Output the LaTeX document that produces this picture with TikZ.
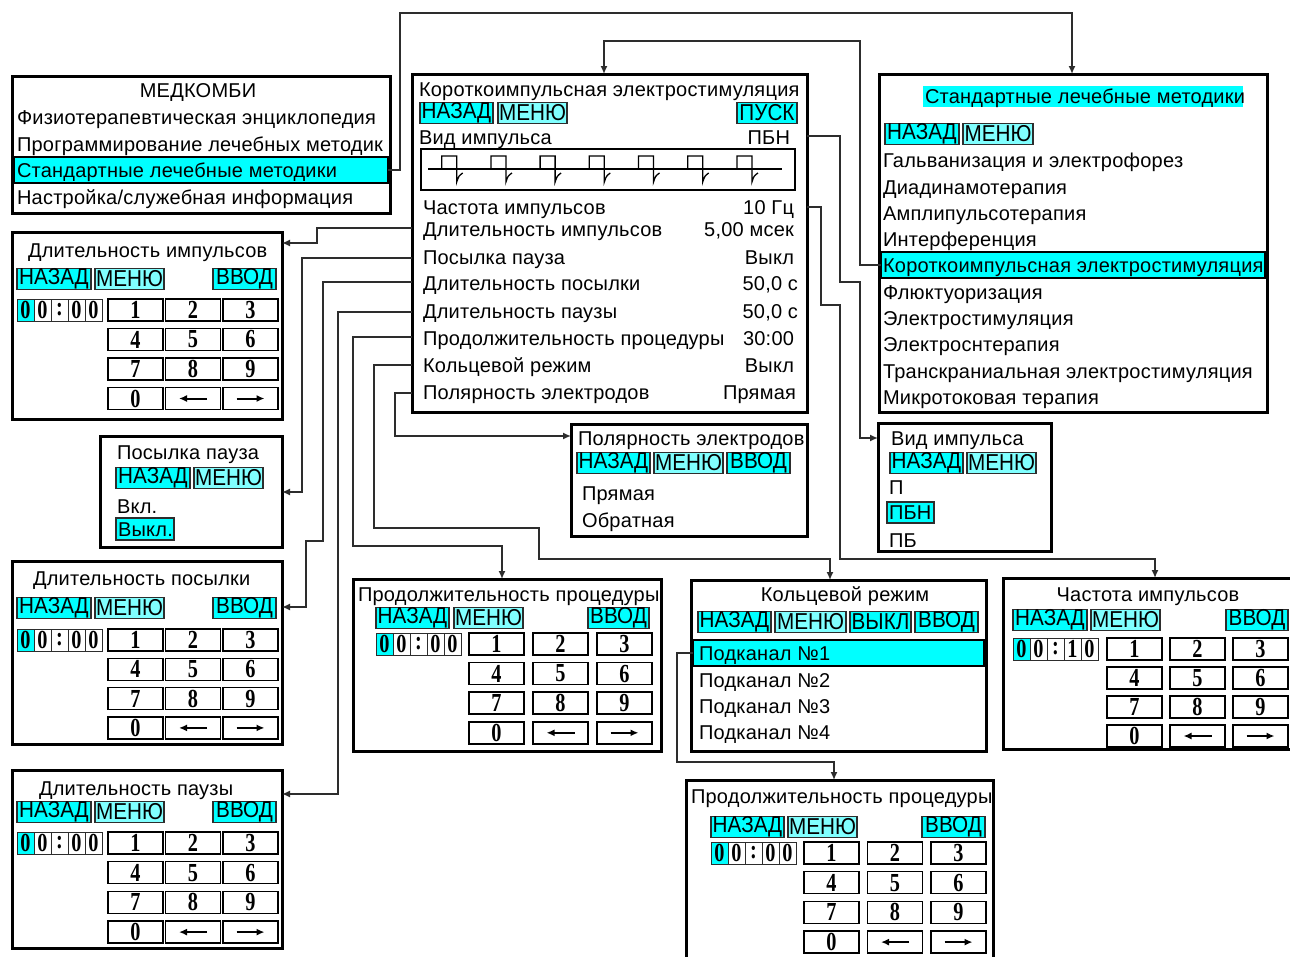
\documentclass[tikz,border=0pt]{standalone}
\usepackage{fontspec}
\usepackage{graphicx}
\setmainfont{Liberation Sans}[LetterSpace=1.2]
\newfontfamily\bfam{Liberation Sans}[FakeStretch=0.9]
\newfontfamily\kfam{Liberation Serif}
\usetikzlibrary{arrows.meta}
\definecolor{cy}{RGB}{0,255,255}
\definecolor{cyl}{RGB}{128,255,255}
\definecolor{ln}{RGB}{45,45,45}
\newcommand\tf{\fontsize{20}{24}\selectfont}
\newcommand\bfn{\bfam\fontsize{23}{23}\selectfont}
\newcommand\kfn{\kfam\bfseries\fontsize{26}{26}\selectfont}
\newcommand\kd[1]{\scalebox{0.78}[1]{#1}}
\tikzset{
 every node/.style={outer sep=0pt},
 frame/.style={draw=black,line width=3pt,anchor=north west,inner sep=0pt,fill=white},
 conn/.style={draw=ln,line width=1.5pt,-{Latex[length=8pt,width=7pt]}},
 t/.style={anchor=base west,inner sep=0pt,font=\tf},
 tr/.style={anchor=base east,inner sep=0pt,font=\tf},
 tc/.style={anchor=base,inner sep=0pt,font=\tf},
 btn/.style={draw=ln,line width=1.2pt,fill=cy,anchor=west,inner sep=0pt,minimum height=21pt,font=\bfn},
 band/.style={draw=black,line width=1.5pt,fill=cy,anchor=north west,inner sep=0pt},
 key/.style={draw=black,line width=1.5pt,anchor=north west,inner sep=0pt,minimum width=55pt,minimum height=22pt,font=\kfn},
 dcell/.style={draw=ln,line width=1pt,anchor=north west,inner sep=0pt,minimum width=17pt,minimum height=22pt,font=\kfn},
 wave/.style={draw=black,line width=1.3pt},
 karr/.style={line width=2pt,-{Latex[length=8pt,width=7pt]}},
}
\newcommand\frm[5]{\node[frame,minimum width={#4-#2},minimum height={#5-#3}] (#1) at (#2,#3) {};}
\newcommand\disp[7]{%
 \node[dcell,fill=cy] (#1a) at (#2,#3) {\kd{#4}};
 \node[dcell] (#1b) at (#2+17,#3) {\kd{#5}};
 \node[dcell] (#1c) at (#2+34,#3) {\kd{:}};
 \node[dcell] (#1d) at (#2+51,#3) {\kd{#6}};
 \node[dcell] (#1e) at (#2+68,#3) {\kd{#7}};}
\newcommand\keys[5]{%
 \foreach \ro/\ka/\kb/\kc in {0/1/2/3,1/4/5/6,2/7/8/9}{
  \node[key] (#1k\ka) at (#2,#4+\ro*#5) {\kd{\ka}};
  \node[key] (#1k\kb) at (#2+#3,#4+\ro*#5) {\kd{\kb}};
  \node[key] (#1k\kc) at (#2+2*#3,#4+\ro*#5) {\kd{\kc}};
 }
 \node[key] (#1k0) at (#2,#4+3*#5) {\kd{0}};
 \node[key] (#1kl) at (#2+#3,#4+3*#5) {};
 \node[key] (#1kr) at (#2+2*#3,#4+3*#5) {};
 \draw[karr] ([xshift=14pt]#1kl.center) -- ([xshift=-14pt]#1kl.center);
 \draw[karr] ([xshift=-14pt]#1kr.center) -- ([xshift=14pt]#1kr.center);}
\begin{document}
\begin{tikzpicture}[x=1pt,y=-1pt]
\useasboundingbox (0,0) rectangle (1290,956);
\fill[white] (0,0) rectangle (1290,956);

% ---------- MEDKOMBI
\frm{mk}{12}{76}{390}{213}
\node[tc] (mkt) at (198,97) {МЕДКОМБИ};
\node[t] (mk1) at (17,124) {Физиотерапевтическая энциклопедия};
\node[t] (mk2) at (17,151) {Программирование лечебных методик};
\node[band,minimum width=374,minimum height=26] (mkb) at (14,157) {};
\node[t] (mk3) at (17,177) {Стандартные лечебные методики};
\node[t] (mk4) at (17,204) {Настройка/служебная информация};

% ---------- main
\frm{main}{412}{74}{807}{412}
\node[t] (mt) at (419,96) {Короткоимпульсная электростимуляция};
\node[btn,minimum width=73] (mnz) at (420,113) {НАЗАД};
\node[btn,fill=cyl,minimum width=69] (mmn) at (498,113) {МЕНЮ};
\node[btn,minimum width=60] (mps) at (737,113) {ПУСК};
\node[t] (mv) at (419,144) {Вид импульса};
\node[tr] (mvv) at (790,144) {ПБН};
\node[wave,anchor=north west,minimum width=374,minimum height=41,inner sep=0pt] (wv) at (421,149) {};
\draw[wave] (428,169) -- (782,169);
\foreach \i in {0,...,6}{
 \pgfmathsetmacro\xo{441.7+49.2*\i}
 \draw[wave] (\xo,169) -- (\xo,156) -- (\xo+15,156) -- (\xo+15,182) .. controls (\xo+17,176) .. (\xo+21,173);
}
\node[t] (r1) at (423,214) {Частота импульсов};       \node[tr] (v1) at (794,214) {10 Гц};
\node[t] (r2) at (423,236) {Длительность импульсов};  \node[tr] (v2) at (794,236) {5,00 мсек};
\node[t] (r3) at (423,264) {Посылка пауза};           \node[tr] (v3) at (794,264) {Выкл};
\node[t] (r4) at (423,290) {Длительность посылки};    \node[tr] (v4) at (798,290) {50,0 с};
\node[t] (r5) at (423,318) {Длительность паузы};      \node[tr] (v5) at (798,318) {50,0 с};
\node[t] (r6) at (423,345) {Продолжительность процедуры}; \node[tr] (v6) at (794,345) {30:00};
\node[t] (r7) at (423,372) {Кольцевой режим};         \node[tr] (v7) at (794,372) {Выкл};
\node[t] (r8) at (423,399) {Полярность электродов};   \node[tr] (v8) at (796,399) {Прямая};

% ---------- standard methods
\frm{std}{879}{74}{1267}{412}
\node[fill=cy,anchor=north west,inner sep=0pt,minimum width=320,minimum height=21] (stdt) at (923,86) {};
\node[t] (stdtt) at (925,103) {Стандартные лечебные методики};
\node[btn,minimum width=74] (snz) at (885,134) {НАЗАД};
\node[btn,fill=cyl,minimum width=70] (smn) at (963,134) {МЕНЮ};
\node[t] (s1) at (883,167) {Гальванизация и электрофорез};
\node[t] (s2) at (883,194) {Диадинамотерапия};
\node[t] (s3) at (883,220) {Амплипульсотерапия};
\node[t] (s4) at (883,246) {Интерференция};
\node[band,minimum width=384,minimum height=26] (stdb) at (881,252) {};
\node[t] (s5) at (883,272) {Короткоимпульсная электростимуляция};
\node[t] (s6) at (883,299) {Флюктуоризация};
\node[t] (s7) at (883,325) {Электростимуляция};
\node[t] (s8) at (883,351) {Электроснтерапия};
\node[t] (s9) at (883,378) {Транскраниальная электростимуляция};
\node[t] (s10) at (883,404) {Микротоковая терапия};

% ---------- Длительность импульсов
\frm{b1}{12}{232}{282}{419}
\node[t] (b1t) at (28,257) {Длительность импульсов};
\node[btn,minimum width=74] (b1nz) at (17,279) {НАЗАД};
\node[btn,fill=cyl,minimum width=69] (b1mn) at (95,279) {МЕНЮ};
\node[btn,minimum width=63] (b1vv) at (213,279) {ВВОД};
\disp{b1d}{17}{299}{0}{0}{0}{0}
\keys{b1}{108}{57.5}{299}{29.5}

% ---------- Посылка пауза
\frm{b2}{100}{436}{282}{547}
\node[t] (b2t) at (117,459) {Посылка пауза};
\node[btn,minimum width=74] (b2nz) at (116,478) {НАЗАД};
\node[btn,fill=cyl,minimum width=69] (b2mn) at (194,478) {МЕНЮ};
\node[t] (b2on) at (117,513) {Вкл.};
\node[band,draw=ln,line width=1.2pt,minimum width=58,minimum height=22] (b2sel) at (116,518) {};
\node[t] (b2off) at (118,536) {Выкл.};

% ---------- Длительность посылки
\frm{b3}{12}{561}{282}{744}
\node[t] (b3t) at (33,585) {Длительность посылки};
\node[btn,minimum width=74] (b3nz) at (17,608) {НАЗАД};
\node[btn,fill=cyl,minimum width=69] (b3mn) at (95,608) {МЕНЮ};
\node[btn,minimum width=63] (b3vv) at (213,608) {ВВОД};
\disp{b3d}{17}{629}{0}{0}{0}{0}
\keys{b3}{108}{57.5}{629}{29.3}

% ---------- Длительность паузы
\frm{b4}{12}{770}{282}{948}
\node[t] (b4t) at (39,795) {Длительность паузы};
\node[btn,minimum width=74] (b4nz) at (17,812) {НАЗАД};
\node[btn,fill=cyl,minimum width=69] (b4mn) at (95,812) {МЕНЮ};
\node[btn,minimum width=63] (b4vv) at (213,812) {ВВОД};
\disp{b4d}{17}{832}{0}{0}{0}{0}
\keys{b4}{108}{57.5}{832}{29.7}

% ---------- Полярность электродов
\frm{pol}{571}{424}{807}{536}
\node[t] (polt) at (578,445) {Полярность электродов};
\node[btn,minimum width=73] (polnz) at (577,463) {НАЗАД};
\node[btn,fill=cyl,minimum width=69] (polmn) at (654,463) {МЕНЮ};
\node[btn,minimum width=63] (polvv) at (727,463) {ВВОД};
\node[t] (pol1) at (582,500) {Прямая};
\node[t] (pol2) at (582,527) {Обратная};

% ---------- Вид импульса
\frm{vid}{878}{423}{1051}{551}
\node[t] (vidt) at (891,445) {Вид импульса};
\node[btn,minimum width=73] (vidnz) at (890,463) {НАЗАД};
\node[btn,fill=cyl,minimum width=69] (vidmn) at (967,463) {МЕНЮ};
\node[t] (vid1) at (889,494) {П};
\node[band,draw=ln,line width=1.2pt,minimum width=47,minimum height=21] (vidsel) at (887,502) {};
\node[t] (vid2) at (889,519) {ПБН};
\node[t] (vid3) at (889,547) {ПБ};

% ---------- Продолжительность процедуры (1)
\frm{pr1}{353}{579}{661}{751}
\node[t] (pr1t) at (358,601) {Продолжительность процедуры};
\node[btn,minimum width=73] (pr1nz) at (376,618) {НАЗАД};
\node[btn,fill=cyl,minimum width=69] (pr1mn) at (454,618) {МЕНЮ};
\node[btn,minimum width=61] (pr1vv) at (588,618) {ВВОД};
\disp{pr1d}{376}{633}{0}{0}{0}{0}
\keys{pr1}{469}{64}{633}{29.6}

% ---------- Кольцевой режим
\frm{kr}{691}{580}{986}{751}
\node[tc] (krt) at (845,601) {Кольцевой режим};
\node[btn,minimum width=73] (krnz) at (698,622) {НАЗАД};
\node[btn,fill=cyl,minimum width=71] (krmn) at (775,622) {МЕНЮ};
\node[btn,minimum width=61] (krvk) at (850,622) {ВЫКЛ};
\node[btn,minimum width=63] (krvv) at (915,622) {ВВОД};
\node[band,minimum width=291,minimum height=26] (krb) at (693,640) {};
\node[t] (kr1) at (699,660) {Подканал №1};
\node[t] (kr2) at (699,687) {Подканал №2};
\node[t] (kr3) at (699,713) {Подканал №3};
\node[t] (kr4) at (699,739) {Подканал №4};

% ---------- Частота импульсов
\frm{ch}{1003}{578}{1300}{749}
\node[tc] (cht) at (1148,601) {Частота импульсов};
\node[btn,minimum width=74] (chnz) at (1013,620) {НАЗАД};
\node[btn,fill=cyl,minimum width=69] (chmn) at (1091,620) {МЕНЮ};
\node[btn,minimum width=62] (chvv) at (1226,620) {ВВОД};
\disp{chd}{1013}{638}{0}{0}{1}{0}
\keys{ch}{1107}{63}{638}{29}

% ---------- Продолжительность процедуры (2)
\frm{pr2}{686}{780}{993}{975}
\node[t] (pr2t) at (691,803) {Продолжительность процедуры};
\node[btn,minimum width=73] (pr2nz) at (711,827) {НАЗАД};
\node[btn,fill=cyl,minimum width=69] (pr2mn) at (788,827) {МЕНЮ};
\node[btn,minimum width=63] (pr2vv) at (922,827) {ВВОД};
\disp{pr2d}{711}{842}{0}{0}{0}{0}
\keys{pr2}{804}{63.5}{842}{29.7}

% ---------- connectors
\draw[conn] (mkb.east) -- (400,170) -- (400,13) -- (1072,13) -- (std.north -| 1072,0);
\draw[conn] (stdb.west) -- (860,265) -- (860,41) -- (604,41) -- (main.north -| 604,0);
\draw[conn] (main.east |- 0,136) -- (840,136) -- (840,282) -- (860,282) -- (860,438) -- (vid.west |- 0,438);
\draw[conn] (main.east |- 0,207) -- (821,207) -- (821,305) -- (840,305) -- (840,559) -- (1155,559) -- (ch.north -| 1155,0);
\draw[conn] (main.west |- 0,228) -- (317,228) -- (317,243) -- (b1.east |- 0,243);
\draw[conn] (main.west |- 0,258) -- (302,258) -- (302,492) -- (b2.east |- 0,492);
\draw[conn] (main.west |- 0,282) -- (323,282) -- (323,541) -- (306,541) -- (306,607) -- (b3.east |- 0,607);
\draw[conn] (main.west |- 0,312) -- (338,312) -- (338,794) -- (b4.east |- 0,794);
\draw[conn] (main.west |- 0,337) -- (353,337) -- (353,546) -- (502,546) -- (pr1.north -| 502,0);
\draw[conn] (main.west |- 0,365) -- (374,365) -- (374,528) -- (539,528) -- (539,559) -- (830,559) -- (kr.north -| 830,0);
\draw[conn] (main.west |- 0,393) -- (395,393) -- (395,436) -- (pol.west |- 0,436);
\draw[conn] (krb.west) -- (677,653) -- (677,762) -- (834,762) -- (pr2.north -| 834,0);
\end{tikzpicture}
\end{document}
